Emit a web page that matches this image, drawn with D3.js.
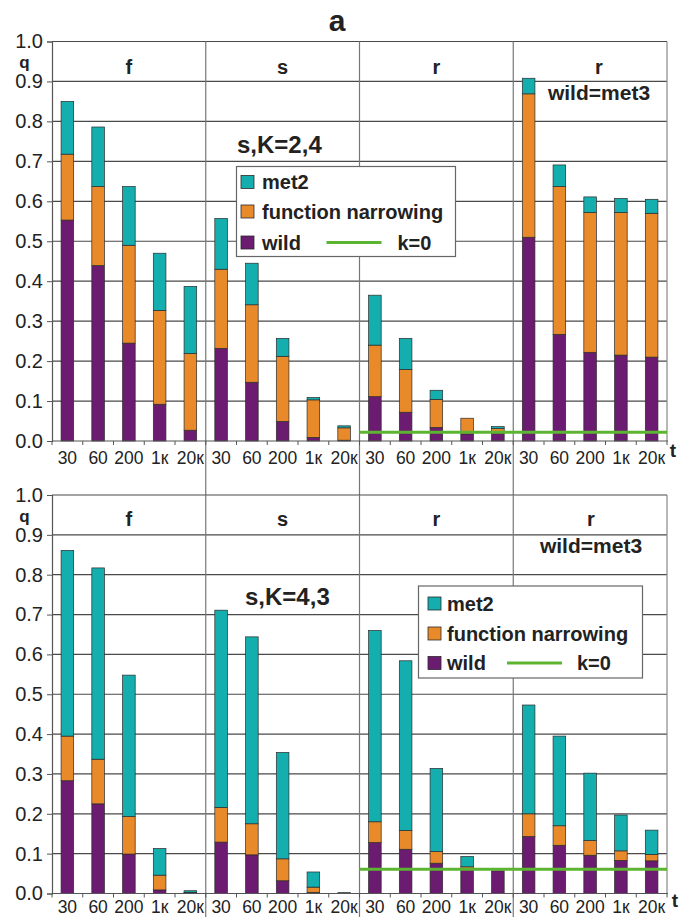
<!DOCTYPE html>
<html>
<head>
<meta charset="utf-8">
<title>q vs t</title>
<script src="https://d3js.org/d3.v7.min.js"></script>
<style>
  body { margin: 0; background: #fff; }
  svg text { font-family: "Liberation Sans", Arial, sans-serif; fill: #222; }
</style>
</head>
<body>
<script>
// categories
const times = ["30", "60", "200", "1к", "20к"];
const panels = ["f", "s", "r", "r"];
const yTicks = [0, 0.1, 0.2, 0.3, 0.4, 0.5, 0.6, 0.7, 0.8, 0.9, 1.0];

// upper chart (s,K=2,4): segment heights, 4 panels x 5 times
const wildTop   = [0.553, 0.439, 0.245, 0.092, 0.027,  0.232, 0.147, 0.049, 0.009, 0.002,  0.111, 0.072, 0.034, 0.018, 0.019,  0.510, 0.267, 0.222, 0.215, 0.210];
const narrowTop = [0.165, 0.198, 0.245, 0.235, 0.192,  0.198, 0.194, 0.163, 0.094, 0.031,  0.129, 0.107, 0.070, 0.039, 0.012,  0.359, 0.370, 0.350, 0.357, 0.360];
const met2Top   = [0.132, 0.149, 0.147, 0.143, 0.168,  0.127, 0.104, 0.045, 0.006, 0.005,  0.125, 0.078, 0.023, 0.000, 0.005,  0.039, 0.054, 0.039, 0.035, 0.035];
const kZeroTop = 0.022;

// lower chart (s,K=4,3)
const wildBot   = [0.283, 0.225, 0.099, 0.009, 0.002,  0.129, 0.097, 0.032, 0.003, 0.001,  0.128, 0.111, 0.076, 0.062, 0.057,  0.143, 0.121, 0.096, 0.083, 0.082];
const narrowBot = [0.112, 0.112, 0.094, 0.037, 0.001,  0.087, 0.078, 0.055, 0.013, 0.000,  0.052, 0.047, 0.029, 0.005, 0.000,  0.057, 0.049, 0.037, 0.024, 0.016];
const met2Bot   = [0.466, 0.480, 0.355, 0.067, 0.004,  0.495, 0.469, 0.267, 0.038, 0.001,  0.480, 0.426, 0.209, 0.026, 0.000,  0.273, 0.225, 0.169, 0.090, 0.061];
const kZeroBot = 0.061;

const seriesNames = ["wild", "function narrowing", "met2"];
const colors = { "wild": "#6b1b70", "function narrowing": "#e88a2a", "met2": "#15aeae" };
const green = "#5cb531";

const W = 679, H = 917;
const left = 52, right = 667;

const svg = d3.select("body").append("svg")
  .attr("width", W).attr("height", H);

const x = d3.scaleBand().domain(d3.range(20)).range([left, right])
  .paddingInner(0.59).paddingOuter(0.295);
const px = d3.scaleBand().domain(d3.range(4)).range([left, right]);

const charts = [
  { wild: wildTop, narrow: narrowTop, met2: met2Top, k: kZeroTop,
    y0: 441, y1: 41.5, labPad: 11, divEnd: 495,
    note: "s,K=2,4", noteX: 237, noteY: 153,
    legend: { x: 236.5, y: 166.5, w: 219, h: 90, rows: [15.5, 45, 76], sq: 4.5, tx: 25.5, l1: 90, l2: 145, kx: 161 },
    labY: 74, wmY: 100, wmX: 599, qY: 68, tY: 457, tX: 673 },
  { wild: wildBot, narrow: narrowBot, met2: met2Bot, k: kZeroBot,
    y0: 893.5, y1: 495, labPad: 7, divEnd: 917,
    note: "s,K=4,3", noteX: 245, noteY: 605,
    legend: { x: 418.5, y: 586, w: 224, h: 92, rows: [17.5, 47.5, 77], sq: 9.5, tx: 28.5, l1: 88.5, l2: 143.5, kx: 158.5 },
    labY: 526, wmY: 553, wmX: 591, qY: 521.5, tY: 907, tX: 675 }
];

// title
svg.append("text").attr("x", 337).attr("y", 31).attr("text-anchor", "middle")
  .style("font-size", "30px").style("font-weight", "bold").text("a");

charts.forEach(c => {
  const y = d3.scaleLinear().domain([0, 1]).range([c.y0, c.y1]);
  const g = svg.append("g");

  // horizontal grid
  g.append("g").selectAll("line").data(yTicks.slice(1)).join("line")
    .attr("x1", left).attr("x2", right)
    .attr("y1", d => y(d)).attr("y2", d => y(d))
    .attr("stroke", "#4a4a4a").attr("stroke-width", 1.2);

  // panel dividers + right border
  g.append("g").selectAll("line").data([1, 2, 3]).join("line")
    .attr("x1", d => px(d)).attr("x2", d => px(d))
    .attr("y1", y(1)).attr("y2", c.divEnd)
    .attr("stroke", "#777").attr("stroke-width", 1.2);
  g.append("line").attr("x1", right).attr("x2", right)
    .attr("y1", y(1)).attr("y2", y(0))
    .attr("stroke", "#888").attr("stroke-width", 1.2);

  // stacked bars
  const rows = d3.range(20).map(i => ({ i: i, "wild": c.wild[i], "function narrowing": c.narrow[i], "met2": c.met2[i] }));
  const stacked = d3.stack().keys(seriesNames)(rows);
  g.append("g").selectAll("g").data(stacked).join("g")
    .attr("fill", d => colors[d.key])
    .selectAll("rect").data(d => d).join("rect")
    .attr("x", d => x(d.data.i))
    .attr("width", x.bandwidth())
    .attr("y", d => y(d[1]))
    .attr("height", d => Math.max(0, y(d[0]) - y(d[1])))
    .attr("stroke", "#2b2b2b").attr("stroke-width", 0.7);

  // k=0 line over the two r panels
  g.append("line")
    .attr("x1", px(2)).attr("x2", right)
    .attr("y1", y(c.k)).attr("y2", y(c.k))
    .attr("stroke", green).attr("stroke-width", 3);

  // y axis
  const yAxis = d3.axisLeft(y).tickValues(yTicks).tickFormat(d3.format(".1f"))
    .tickSize(5).tickPadding(4);
  const ya = g.append("g").attr("transform", `translate(${left},0)`).call(yAxis);
  ya.select(".domain").attr("stroke", "#555").attr("stroke-width", 1.2);
  ya.selectAll(".tick line").attr("stroke", "#555");
  ya.selectAll("text").style("font-size", "20px").style("fill", "#222");

  // x axis with time labels
  const xAxis = d3.axisBottom(x).tickSize(0).tickPadding(c.labPad)
    .tickFormat(i => times[i % 5]);
  const xa = g.append("g").attr("transform", `translate(0,${c.y0})`).call(xAxis);
  xa.select(".domain").remove();
  xa.selectAll("text").style("font-size", "17.5px").style("fill", "#222");
  g.append("line").attr("x1", left).attr("x2", right + 1)
    .attr("y1", c.y0).attr("y2", c.y0).attr("stroke", "#555").attr("stroke-width", 1.2);
  // boundary ticks between categories
  const bounds = d3.range(21).map(i => left + i * x.step());
  g.append("g").selectAll("line").data(bounds).join("line")
    .attr("x1", d => d).attr("x2", d => d)
    .attr("y1", c.y0).attr("y2", c.y0 + 4)
    .attr("stroke", "#555").attr("stroke-width", 1);

  // panel labels
  g.append("g").selectAll("text").data(panels).join("text")
    .attr("x", (d, i) => i === 3 ? c.wmX : px(i) + px.bandwidth() / 2)
    .attr("y", c.labY).attr("text-anchor", "middle")
    .style("font-size", "20px").style("font-weight", "bold").text(d => d);
  g.append("text").attr("x", c.wmX).attr("y", c.wmY).attr("text-anchor", "middle")
    .style("font-size", "21px").style("font-weight", "bold").text("wild=met3");

  // q and t
  g.append("text").attr("x", 24.5).attr("y", c.qY).attr("text-anchor", "middle")
    .style("font-size", "17px").style("font-weight", "bold").text("q");
  g.append("text").attr("x", c.tX).attr("y", c.tY).attr("text-anchor", "middle")
    .style("font-size", "19px").style("font-weight", "bold").text("t");

  // annotation
  g.append("text").attr("x", c.noteX).attr("y", c.noteY)
    .style("font-size", "24px").style("font-weight", "bold").text(c.note);

  // legend
  const L = c.legend;
  const lg = g.append("g").attr("transform", `translate(${L.x},${L.y})`);
  lg.append("rect").attr("width", L.w).attr("height", L.h)
    .attr("fill", "#fff").attr("stroke", "#666").attr("stroke-width", 1.2);
  const items = ["met2", "function narrowing", "wild"];
  items.forEach((name, k) => {
    lg.append("rect").attr("x", L.sq).attr("y", L.rows[k] - 6.5)
      .attr("width", 13).attr("height", 13)
      .attr("fill", colors[name]).attr("stroke", "#2b2b2b").attr("stroke-width", 0.8);
    lg.append("text").attr("x", L.tx).attr("y", L.rows[k] + 7)
      .style("font-size", "20px").style("font-weight", "bold").text(name);
  });
  lg.append("line").attr("x1", L.l1).attr("x2", L.l2)
    .attr("y1", L.rows[2]).attr("y2", L.rows[2])
    .attr("stroke", green).attr("stroke-width", 3);
  lg.append("text").attr("x", L.kx).attr("y", L.rows[2] + 7)
    .style("font-size", "20px").style("font-weight", "bold").text("k=0");
});
</script>
</body>
</html>
